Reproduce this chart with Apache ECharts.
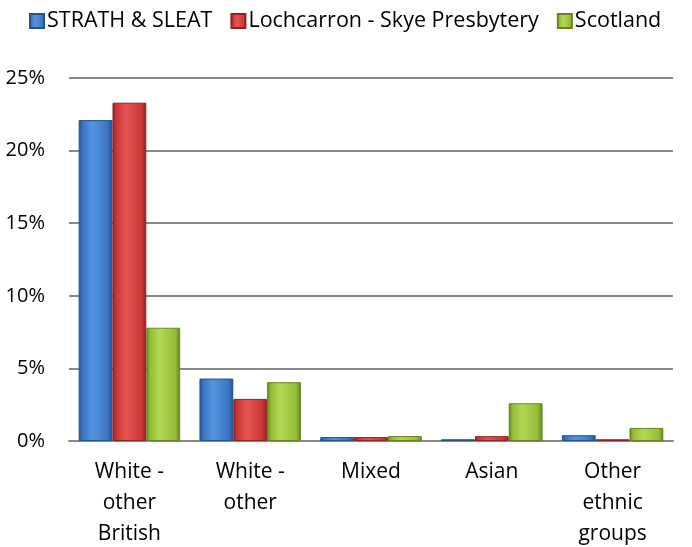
<!DOCTYPE html>
<html>
<head>
<meta charset="utf-8">
<script src="https://cdn.jsdelivr.net/npm/echarts@6/dist/echarts.min.js"></script>
<style>
html, body { margin: 0; padding: 0; background: #fff; }
#chart { width: 692px; height: 547px; }
</style>
</head>
<body>
<div id="chart"></div>
<script>
'use strict';

var categories = ['White -\nother\nBritish', 'White -\nother', 'Mixed', 'Asian', 'Other\nethnic\ngroups'];
var seriesNames = ['STRATH & SLEAT', 'Lochcarron - Skye Presbytery', 'Scotland'];
var strathSleat = [22.1, 4.3, 0.27, 0.12, 0.4];
var lochcarron = [23.3, 2.9, 0.27, 0.33, 0.12];
var scotland = [7.8, 4.05, 0.34, 2.6, 0.9];
var yTicks = [0, 5, 10, 15, 20, 25];

// dark edge, light centre, mid colour
var palette = [
    ['#24528c', '#5594e0', '#3a76c4'],
    ['#8e2323', '#e55454', '#cc3636'],
    ['#668520', '#b3d755', '#95bf38']
];

function barColor(p) {
    return new echarts.graphic.LinearGradient(0, 0, 1, 0, [
        { offset: 0, color: p[0] },
        { offset: 0.12, color: p[2] },
        { offset: 0.4, color: p[1] },
        { offset: 0.85, color: p[2] },
        { offset: 1, color: p[0] }
    ]);
}

var chart = echarts.init(document.getElementById('chart'));

var font = 'Open Sans';

var option = {
    animation: false,
    textStyle: { fontFamily: font },
    legend: {
        top: 5,
        left: 24,
        itemWidth: 14,
        itemHeight: 14,
        itemGap: 18,
        icon: 'rect',
        textStyle: { fontSize: 21.5, color: '#000', fontFamily: font, padding: [0, 0, 0, -2] },
        data: seriesNames
    },
    grid: {
        left: 69,
        right: 19,
        top: 78,
        bottom: 106,
        outerBoundsMode: 'none',
        containLabel: false
    },
    xAxis: {
        type: 'category',
        data: categories,
        axisLine: { show: true, lineStyle: { color: '#888', width: 2 } },
        axisTick: { show: false },
        axisLabel: { fontSize: 21, color: '#000', lineHeight: 31, margin: 16, interval: 0 }
    },
    yAxis: {
        type: 'value',
        min: 0,
        max: 25,
        interval: 5,
        axisLine: { show: false },
        axisTick: { show: false },
        splitLine: { lineStyle: { color: '#888', width: 2 } },
        axisLabel: {
            fontSize: 20,
            color: '#000',
            margin: 24,
            formatter: function (v) { return yTicks.indexOf(v) >= 0 ? v + '%' : ''; }
        }
    },
    series: [strathSleat, lochcarron, scotland].map(function (d, i) {
        return {
            name: seriesNames[i],
            type: 'bar',
            data: d,
            barGap: '0%',
            barCategoryGap: '16%',
            itemStyle: {
                color: barColor(palette[i]),
                borderColor: palette[i][0],
                borderWidth: 1
            }
        };
    })
};

chart.setOption(option);
</script>
</body>
</html>
